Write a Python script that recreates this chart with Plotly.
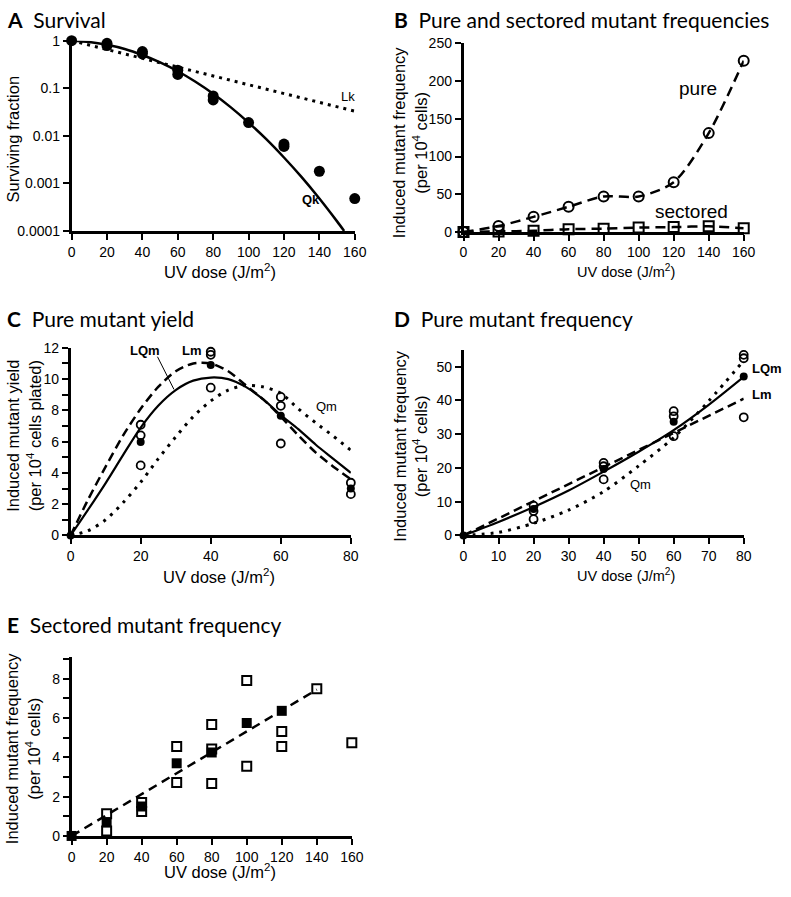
import math
import plotly.graph_objects as go

W, H = 791, 897

# ---------------- Data ----------------
# Panel A: survival
A_dose = [0, 20, 20, 40, 40, 60, 60, 80, 80, 100, 120, 120, 140, 160]
A_surv = [1.0, 0.88, 0.79, 0.59, 0.53, 0.24, 0.195, 0.069, 0.057, 0.019, 0.0067, 0.006, 0.0018, 0.00048]
A_qk_dose = [0, 10, 20, 30, 40, 50, 60, 70, 80, 90, 100, 110, 120, 130, 140, 150, 154]
A_qk_surv = [1.0, 0.94, 0.82, 0.67, 0.50, 0.35, 0.228, 0.137, 0.0766, 0.0397, 0.019, 0.0085,
             0.0035, 0.00135, 0.00048, 0.000159, 0.0001]
A_lk_dose = [0, 160]
A_lk_surv = [1.0, 0.033]

# Panel B: pure and sectored mutant frequencies
B_dose = [0, 20, 40, 60, 80, 100, 120, 140, 160]
B_pure = [0, 7.8, 20, 33.4, 47, 47, 66, 131, 227]
B_sect = [0, 0.7, 1.5, 3.7, 4.3, 5.8, 6.4, 7.5, 4.8]

# Panel C: pure mutant yield
C_open_dose = [20, 20, 20, 40, 40, 40, 60, 60, 60, 80, 80]
C_open_val = [7.08, 6.4, 4.48, 11.75, 11.55, 9.45, 8.86, 8.29, 5.88, 3.37, 2.64]
C_mean_dose = [0, 20, 40, 60, 80]
C_mean_val = [0, 5.97, 10.9, 7.66, 3.0]
C_curve_dose = [0, 5, 10, 15, 20, 25, 30, 35, 40, 45, 50, 55, 60, 65, 70, 75, 80]
C_LQm = [0, 1.65, 3.35, 5.15, 6.9, 8.3, 9.3, 9.9, 10.1, 10.0, 9.5, 8.7, 7.7, 6.8, 5.8, 4.9, 4.0]
C_Lm = [0, 2.3, 4.4, 6.4, 8.1, 9.5, 10.5, 11.0, 11.0, 10.5, 9.6, 8.7, 7.6, 6.4, 5.3, 4.4, 3.6]
C_Qm = [0, 0.3, 1.0, 2.1, 3.4, 4.9, 6.3, 7.6, 8.6, 9.3, 9.6, 9.5, 9.1, 8.1, 7.2, 6.35, 5.45]

# Panel D: pure mutant frequency
D_open_dose = [20, 20, 20, 40, 40, 40, 60, 60, 60, 80, 80, 80]
D_open_val = [8.8, 7.2, 4.8, 21.5, 20.5, 16.6, 36.8, 35.3, 29.4, 53.5, 52.5, 35.0]
D_mean_dose = [0, 20, 40, 60, 80]
D_mean_val = [0, 7.8, 19.7, 33.7, 47.1]
D_curve_dose = [0, 10, 20, 30, 40, 50, 60, 70, 80]
D_LQm = [0, 4.0, 8.4, 13.3, 18.9, 24.8, 31.2, 38.7, 47.0]
D_Qm = [0, 0.9, 3.6, 7.5, 13.0, 20.6, 29.0, 39.8, 51.8]
D_Lm_dose = [0, 80]
D_Lm = [0, 40.5]

# Panel E: sectored mutant frequency
E_open_dose = [20, 20, 40, 40, 60, 60, 80, 80, 80, 100, 100, 120, 120, 120, 140, 160]
E_open_val = [1.13, 0.25, 1.7, 1.25, 4.55, 2.72, 5.67, 4.43, 2.67, 7.92, 3.55, 9.25, 5.32, 4.55, 7.5, 4.75]
E_mean_dose = [0, 20, 40, 60, 80, 100, 120]
E_mean_val = [0, 0.7, 1.5, 3.7, 4.25, 5.75, 6.37]
E_fit_dose = [0, 140]
E_fit_val = [0, 7.45]

# ---------------- Layout helpers ----------------
def xd(left, right):
    return [left / W, right / W]

def yd(top, bottom):
    return [1 - bottom / H, 1 - top / H]

def px(x):
    return x / W

def py(y):
    return 1 - y / H

FONT = "Liberation Sans, Arial, Helvetica, sans-serif"
TFONT = "Lato, Calibri, sans-serif"

axis_style = dict(showline=True, linecolor="black", linewidth=2.5, ticks="outside",
                  ticklen=6, tickwidth=2, tickcolor="black", showgrid=False,
                  zeroline=False, tickfont=dict(family=FONT, size=14, color="black"),
                  fixedrange=True)

fig = go.Figure()

BLK = "black"

def line(x, y, xa, ya, dash="solid", width=2.5):
    fig.add_trace(go.Scatter(x=x, y=y, mode="lines", xaxis=xa, yaxis=ya,
                             line=dict(color=BLK, width=width, dash=dash, shape="spline", smoothing=0.8),
                             cliponaxis=False, showlegend=False, hoverinfo="skip"))

def marks(x, y, xa, ya, symbol, size, lw=2):
    fig.add_trace(go.Scatter(x=x, y=y, mode="markers", xaxis=xa, yaxis=ya,
                             marker=dict(symbol=symbol, size=size, color=BLK,
                                         line=dict(color=BLK, width=lw)),
                             cliponaxis=False, showlegend=False))

DOT = "3px,5px"
DASH = "10px,6px"

# Panel A
line(A_lk_dose, A_lk_surv, "x", "y", dash=DOT, width=3)
line(A_qk_dose, A_qk_surv, "x", "y")
marks(A_dose, A_surv, "x", "y", "circle", 11, 0)

# Panel B
line(B_dose, B_pure, "x2", "y2", dash=DASH, width=2.5)
line(B_dose, B_sect, "x2", "y2", dash=DASH, width=2.5)
marks(B_dose, B_pure, "x2", "y2", "circle-open", 10, 2)
marks(B_dose, B_sect, "x2", "y2", "square-open", 10, 2)

# Panel C
line(C_curve_dose, C_Qm, "x3", "y3", dash="3px,6px", width=3)
line(C_curve_dose, C_Lm, "x3", "y3", dash="9px,5px", width=2.5)
line(C_curve_dose, C_LQm, "x3", "y3", width=2.2)
marks(C_open_dose, C_open_val, "x3", "y3", "circle-open", 8, 1.8)
marks(C_mean_dose, C_mean_val, "x3", "y3", "circle", 8, 0)

# Panel D
line(D_curve_dose, D_Qm, "x4", "y4", dash="3px,6px", width=3)
line(D_Lm_dose, D_Lm, "x4", "y4", dash="9px,5px", width=2.5)
line(D_curve_dose, D_LQm, "x4", "y4", width=2.2)
marks(D_open_dose, D_open_val, "x4", "y4", "circle-open", 8, 1.8)
marks(D_mean_dose, D_mean_val, "x4", "y4", "circle", 8, 0)

# Panel E
line(E_fit_dose, E_fit_val, "x5", "y5", dash="9px,6px", width=2.5)
marks(E_open_dose, E_open_val, "x5", "y5", "square-open", 9, 2)
marks(E_mean_dose, E_mean_val, "x5", "y5", "square", 10, 0)

layout = dict(
    width=W, height=H, margin=dict(l=0, r=0, t=0, b=0),
    paper_bgcolor="white", plot_bgcolor="white", showlegend=False,
    font=dict(family=FONT, color="black"),
)
# A
layout["xaxis"] = dict(axis_style, domain=xd(69, 358), range=[0, 160], tickvals=[0, 20, 40, 60, 80, 100, 120, 140, 160], anchor="y")
layout["yaxis"] = dict(axis_style, domain=yd(33.3, 227), type="log", range=[-4, 0],
                       tickvals=[0.0001, 0.001, 0.01, 0.1, 1],
                       ticktext=["0.0001", "0.001", "0.01", "0.1", "1"], anchor="x")
# B
layout["xaxis2"] = dict(axis_style, domain=xd(469, 755), range=[0, 160], dtick=20, anchor="y2")
layout["yaxis2"] = dict(axis_style, domain=yd(36, 228), range=[0, 250], dtick=50, anchor="x2")
# C
layout["xaxis3"] = dict(axis_style, domain=xd(68, 354), range=[0, 80], dtick=20, anchor="y3")
layout["yaxis3"] = dict(axis_style, domain=yd(346, 537), range=[0, 12], dtick=2, anchor="x3",
                        minor=dict(dtick=1, ticks="outside", ticklen=6, tickwidth=2, tickcolor="black"))
# D
layout["xaxis4"] = dict(axis_style, domain=xd(469, 755), range=[0, 80], dtick=10, anchor="y4")
layout["yaxis4"] = dict(axis_style, domain=yd(348, 537), range=[0, 55], tickvals=[0, 10, 20, 30, 40, 50], anchor="x4")
# E
layout["xaxis5"] = dict(axis_style, domain=xd(69, 355), range=[0, 160], dtick=20, anchor="y5")
layout["yaxis5"] = dict(axis_style, domain=yd(661, 843), range=[0, 9.1], tickvals=[0, 2, 4, 6, 8], anchor="x5",
                        minor=dict(tickvals=[1, 3, 5, 7, 9], ticks="outside", ticklen=6, tickwidth=2, tickcolor="black"))

ann = []

def paper_text(text, x, y, size, angle=0, family=FONT, xanchor="center", yanchor="middle"):
    ann.append(dict(text=text, x=px(x), y=py(y), xref="paper", yref="paper", showarrow=False,
                    font=dict(family=family, size=size, color="black"), textangle=angle,
                    xanchor=xanchor, yanchor=yanchor))

# Panel titles
TS = 21
paper_text("<b>A</b>  Survival", 1, 12, TS, family=TFONT, xanchor="left")
paper_text("<b>B</b>  Pure and sectored mutant frequencies", 396, 12, TS, family=TFONT, xanchor="left")
paper_text("<b>C</b>  Pure mutant yield", 1, 316, TS, family=TFONT, xanchor="left")
paper_text("<b>D</b>  Pure mutant frequency", 396, 316, TS, family=TFONT, xanchor="left")
paper_text("<b>E</b>  Sectored mutant frequency", 1, 628, TS, family=TFONT, xanchor="left")

# Axis titles
XT = "UV dose (J/m<sup>2</sup>)"
paper_text(XT, 220, 268, 16.5)
paper_text(XT, 635, 268, 14.5)
paper_text(XT, 219, 578, 16.5)
paper_text(XT, 635, 577, 14.5)
paper_text(XT, 220, 879, 16.5)
paper_text("Surviving fraction", 9, 133, 16.5, angle=-90)
paper_text("Induced mutant frequency<br>(per 10<sup>4</sup> cells)", 414, 137, 16.5, angle=-90)
paper_text("Induced mutant yield<br>(per 10<sup>4</sup> cells plated)", 20, 436, 16.5, angle=-90)
paper_text("Induced mutant frequency<br>(per 10<sup>4</sup> cells)", 414, 446, 16.5, angle=-90)
paper_text("Induced mutant frequency<br>(per 10<sup>4</sup> cells)", 19, 754, 16.5, angle=-90)

def data_text(text, x, y, xa, ya, size=13, bold=False, xanchor="left"):
    ann.append(dict(text=("<b>%s</b>" % text) if bold else text, x=x, y=y, xref=xa, yref=ya,
                    showarrow=False, font=dict(family=FONT, size=size, color="black"),
                    xanchor=xanchor, yanchor="middle"))

# Panel A labels
ann.append(dict(text="Lk", x=151, y=math.log10(0.067), xref="x", yref="y", showarrow=False,
                font=dict(family=FONT, size=13, color="black"), xanchor="left", yanchor="middle"))
ann.append(dict(text="<b>Qk</b>", x=128.8, y=math.log10(0.00045), xref="x", yref="y", showarrow=False,
                font=dict(family=FONT, size=13, color="black"), xanchor="left", yanchor="middle"))
# Panel B labels
data_text("pure", 134, 190, "x2", "y2", size=19, xanchor="center")
data_text("sectored", 130, 26.5, "x2", "y2", size=19, xanchor="center")
# Panel C labels
data_text("LQm", 21.1, 11.8, "x3", "y3", bold=True, xanchor="center")
data_text("Lm", 34.6, 11.8, "x3", "y3", bold=True, xanchor="center")
data_text("Qm", 69.5, 8.23, "x3", "y3")
# Panel D labels (right of the axis range, so placed on the paper)
paper_text("<b>LQm</b>", 761, 367, 13, xanchor="left")
paper_text("<b>Lm</b>", 761, 394, 13, xanchor="left")
data_text("Qm", 47, 15.2, "x4", "y4")

layout["annotations"] = ann
layout["shapes"] = [dict(type="line", xref="x3", yref="y3", x0=24.8, y0=11.43, x1=29.5, y1=9.34,
                         line=dict(color="black", width=1))]

fig.update_layout(**layout)
fig.write_html("out.html", config={"displayModeBar": False},
               post_script="document.body.style.margin='0px';document.body.style.overflow='hidden';")
